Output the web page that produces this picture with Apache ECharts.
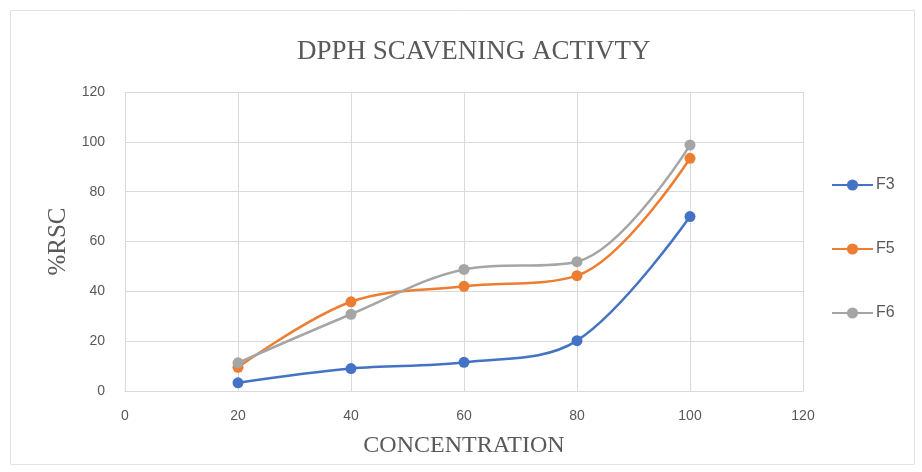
<!DOCTYPE html>
<html><head><meta charset="utf-8">
<script src="https://cdn.jsdelivr.net/npm/echarts@6/dist/echarts.min.js"></script>
<style>html,body{margin:0;padding:0;background:#fff}#c{width:922px;height:472px}</style>
</head><body><div id="c"></div>
<script>
const concentration = [20, 40, 60, 80, 100];
const F3 = [3.3, 9, 11.5, 20.2, 70];
const F5 = [9.5, 35.8, 42, 46.3, 93.4];
const F6 = [11.3, 30.8, 48.8, 51.9, 98.7];
const seriesNames = ['F3', 'F5', 'F6'];
const colors = ['#4472C4', '#ED7D31', '#A5A5A5'];
const values = [F3, F5, F6];

const chart = echarts.init(document.getElementById('c'));
chart.setOption({
  animation: false,
  backgroundColor: '#fff',
  graphic: [{type:'rect', shape:{x:10.5,y:10.5,width:904,height:454}, style:{fill:'none', stroke:'#e3e3e3', lineWidth:1}}],
  title: {text: 'DPPH SCAVENING ACTIVTY', left: 292, top: 33,
    textStyle: {fontFamily: 'Liberation Serif', fontWeight: 'normal', fontSize: 27, color: '#595959'}},
  grid: {left: 125, right: 119, top: 92, bottom: 81},
  legend: {orient: 'vertical', left: 826, top: 172, itemGap: 48, itemWidth: 41, itemHeight: 14,
    data: seriesNames,
    textStyle: {fontFamily: 'Liberation Sans', fontSize: 16, lineHeight: 14, color: '#595959', padding: [0,0,0,-2]}},
  xAxis: {type: 'value', min: 0, max: 120, interval: 20,
    name: 'CONCENTRATION', nameLocation: 'middle', nameGap: 43,
    nameTextStyle: {fontFamily: 'Liberation Serif', fontSize: 24, color: '#595959'},
    axisLine: {lineStyle: {color: '#d9d9d9'}}, axisTick: {show: false},
    axisLabel: {fontFamily: 'Liberation Sans', fontSize: 14, color: '#595959', margin: 18},
    splitLine: {lineStyle: {color: '#d9d9d9'}}},
  yAxis: {type: 'value', min: 0, max: 120, interval: 20,
    name: '%RSC', nameLocation: 'middle', nameGap: 51,
    nameTextStyle: {fontFamily: 'Liberation Serif', fontSize: 25, color: '#595959'},
    axisLine: {show: false}, axisTick: {show: false},
    axisLabel: {fontFamily: 'Liberation Sans', fontSize: 14, color: '#595959', margin: 20},
    splitLine: {lineStyle: {color: '#d9d9d9'}}},
  series: seriesNames.map((n, i) => ({
    name: n, type: 'line', smooth: 0.35,
    data: concentration.map((c, j) => [c, values[i][j]]),
    symbol: 'circle', symbolSize: 11,
    lineStyle: {width: 2.5, color: colors[i]},
    itemStyle: {color: colors[i]}
  }))
});
</script></body></html>
